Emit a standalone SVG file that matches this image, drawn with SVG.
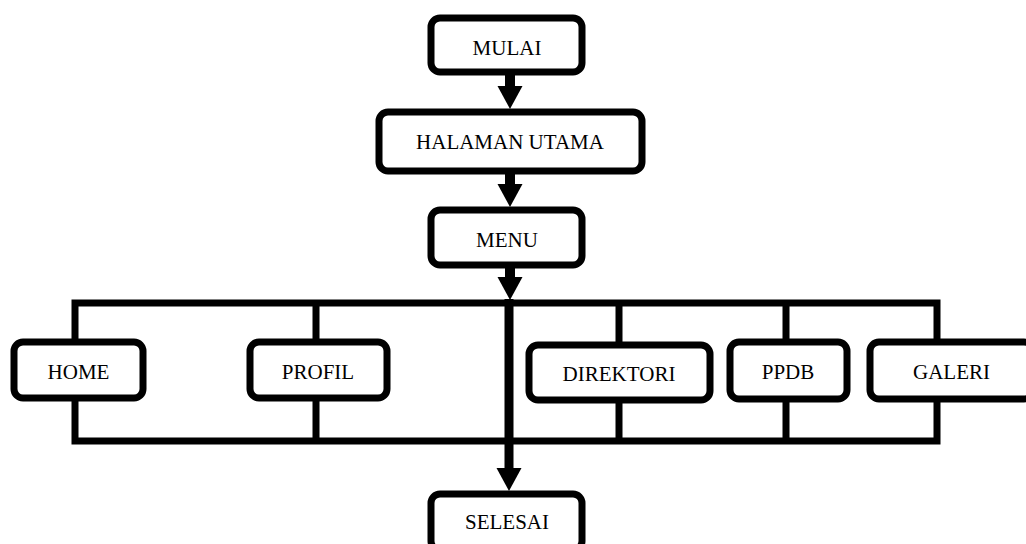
<svg xmlns="http://www.w3.org/2000/svg" width="1026" height="544" viewBox="0 0 1026 544">
<style>
.box{fill:#fff;stroke:#000;stroke-width:7}
.ln{fill:none;stroke:#000;stroke-width:7;stroke-linejoin:miter}
.sh{stroke:#000;stroke-width:10;fill:none}
.t{font-family:"Liberation Serif","Times New Roman",serif;font-size:21px;fill:#000;text-anchor:middle}
</style>
<defs>
<polygon id="head" points="-12.5,-23 12.5,-23 0,0" fill="#000"/>
</defs>
<rect width="1026" height="544" fill="#fff"/>
<g id="connectors">
<path class="ln" d="M75,441 L75,303 L937,303 L937,441 Z"/>
<line class="ln" x1="316" y1="303" x2="316" y2="441"/>
<line class="ln" x1="619" y1="303" x2="619" y2="441"/>
<line class="ln" x1="786" y1="303" x2="786" y2="441"/>
<line class="sh" x1="510" y1="75" x2="510" y2="88"/>
<use href="#head" x="510" y="109"/>
<line class="sh" x1="510" y1="174" x2="510" y2="186"/>
<use href="#head" x="510" y="207"/>
<line class="sh" x1="510" y1="268" x2="510" y2="279"/>
<use href="#head" x="510" y="300"/>
<line class="sh" x1="509" y1="299" x2="509" y2="472" style="stroke-width:9"/>
<use href="#head" x="509" y="491"/>
</g>
<g id="mulai"><rect class="box" x="431" y="18" width="151" height="54" rx="9"/><text class="t" x="507" y="55">MULAI</text></g>
<g id="halaman-utama"><rect class="box" x="379" y="112" width="263" height="59" rx="9"/><text class="t" x="510" y="149">HALAMAN UTAMA</text></g>
<g id="menu"><rect class="box" x="431" y="210" width="151" height="55" rx="9"/><text class="t" x="507" y="247">MENU</text></g>
<g id="home"><rect class="box" x="14" y="342" width="129" height="56" rx="9"/><text class="t" x="78.5" y="379">HOME</text></g>
<g id="profil"><rect class="box" x="250" y="342" width="137" height="56" rx="9"/><text class="t" x="318" y="379">PROFIL</text></g>
<g id="direktori"><rect class="box" x="529" y="345" width="181" height="55" rx="9"/><text class="t" x="619" y="381">DIREKTORI</text></g>
<g id="ppdb"><rect class="box" x="730" y="342" width="117" height="57" rx="9"/><text class="t" x="788" y="379">PPDB</text></g>
<g id="galeri"><rect class="box" x="870" y="342" width="163" height="57" rx="9"/><text class="t" x="951.5" y="379">GALERI</text></g>
<g id="selesai"><rect class="box" x="431" y="494" width="151" height="56" rx="9"/><text class="t" x="507" y="529">SELESAI</text></g>
</svg>
